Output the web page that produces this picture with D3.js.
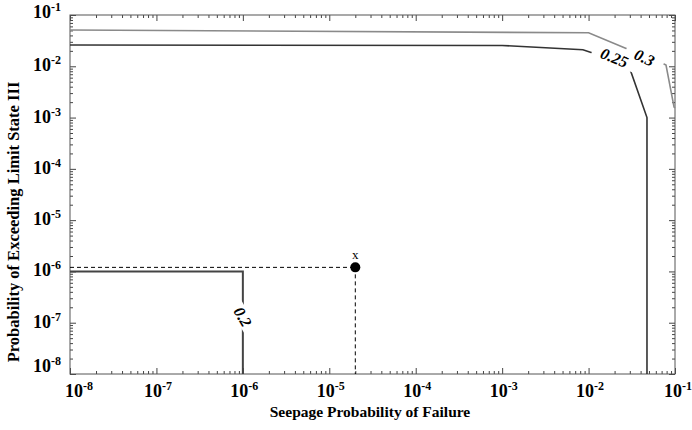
<!DOCTYPE html>
<html><head><meta charset="utf-8">
<script src="https://cdn.jsdelivr.net/npm/d3@7"></script>
<style>body{margin:0;background:#fff}svg{display:block}text{font-family:"Liberation Serif","Times New Roman",serif}</style>
</head><body>
<svg id="c" width="692" height="430"></svg>
<script>
// ---- data ----
const majorTicks = [1e-8,1e-7,1e-6,1e-5,1e-4,1e-3,1e-2,1e-1];
const tickExponents = ["-8","-7","-6","-5","-4","-3","-2","-1"];
const contour02 = [[1e-8,1e-6],[1e-6,1e-6],[1e-6,1e-8]];
const contour025 = [[1e-8,0.026],[1e-3,0.0255],[0.0086,0.021],[0.029,0.0106],[0.0474,0.001],[0.0474,1e-8]];
const contour03 = [[1e-8,0.051],[1e-2,0.045],[0.0264,0.0228],[0.0706,0.0116],[0.0787,0.0106],[0.0975,0.0016],[0.1,0.00155]];
const contourLabels = [
  {text:"0.25", x:0.0199, y:0.0147, angle:22},
  {text:"0.3",  x:0.0443, y:0.0148, angle:25},
  {text:"0.2",  x:1e-6,   y:1.3e-7, angle:60}
];
const pointX = {x:2e-5, y:1.2e-6, label:"x"};
const xTitle = "Seepage Probability of Failure";
const yTitle = "Probability of Exceeding Limit State III";

// ---- layout ----
const L=70,R=675,T=15,B=374;
const svg=d3.select("#c");
const x=d3.scaleLog().domain([1e-8,1e-1]).range([L,R]);
const y=d3.scaleLog().domain([1e-8,1e-1]).range([B,T]);
const minor=x.ticks().filter(v=>!majorTicks.some(m=>Math.abs(m-v)/m<1e-6));

function axisGroup(axisFn, scale, tx, ty){
  const g1=svg.append("g").attr("transform",`translate(${tx},${ty})`)
    .call(axisFn(scale).tickValues(minor).tickSize(-3).tickFormat(""));
  const g2=svg.append("g").attr("transform",`translate(${tx},${ty})`)
    .call(axisFn(scale).tickValues(majorTicks).tickSize(-6).tickFormat(""));
  [g1,g2].forEach(g=>{g.select(".domain").remove();g.selectAll("line").attr("stroke","#444");});
}
axisGroup(d3.axisBottom,x,0,B);
axisGroup(d3.axisTop,x,0,T);
axisGroup(d3.axisLeft,y,L,0);
axisGroup(d3.axisRight,y,R,0);
svg.append("rect").attr("x",L).attr("y",T).attr("width",R-L).attr("height",B-T)
  .attr("fill","none").attr("stroke","#555").attr("stroke-width",1);

// tick labels
majorTicks.forEach((v,i)=>{
  const last=i===majorTicks.length-1;
  const dx = i===0?9:(last?3:1.5);
  const t=svg.append("text").attr("x",x(v)+dx).attr("y",397).attr("text-anchor","middle")
    .attr("font-weight","bold").attr("font-size",18);
  t.append("tspan").text("10");
  t.append("tspan").attr("font-size",12).attr("dy",-7).text(tickExponents[i]);
  const dy = i===0?-2:(last?3:5);
  const u=svg.append("text").attr("x",61).attr("y",y(v)+dy).attr("text-anchor","end")
    .attr("font-weight","bold").attr("font-size",18);
  u.append("tspan").text("10");
  u.append("tspan").attr("font-size",12).attr("dy",-7).text(tickExponents[i]);
});

// titles
svg.append("text").attr("x",370).attr("y",417).attr("text-anchor","middle")
  .attr("font-weight","bold").attr("font-size",15.5).text(xTitle);
svg.append("text").attr("transform",`translate(19,222) rotate(-90)`).attr("text-anchor","middle")
  .attr("font-weight","bold").attr("font-size",16.5).text(yTitle);

// contours
const line=d3.line().x(d=>x(d[0])).y(d=>y(d[1]));
svg.append("path").attr("d",line(contour03)).attr("fill","none").attr("stroke","#8a8a8a").attr("stroke-width",1.6);
svg.append("path").attr("d",line(contour025)).attr("fill","none").attr("stroke","#333").attr("stroke-width",1.6);
svg.append("path").attr("d",line(contour02)).attr("fill","none").attr("stroke","#444").attr("stroke-width",2);

// dashed guides and point
svg.append("line").attr("x1",L).attr("x2",x(pointX.x)).attr("y1",y(pointX.y)).attr("y2",y(pointX.y))
  .attr("stroke","#000").attr("stroke-dasharray","4,3");
svg.append("line").attr("x1",x(pointX.x)).attr("x2",x(pointX.x)).attr("y1",y(pointX.y)).attr("y2",B)
  .attr("stroke","#000").attr("stroke-dasharray","4,3");
svg.append("circle").attr("cx",x(pointX.x)).attr("cy",y(pointX.y)).attr("r",5).attr("fill","#000");
svg.append("text").attr("x",x(pointX.x)).attr("y",y(pointX.y)-8).attr("text-anchor","middle")
  .attr("font-size",13).text(pointX.label);

// contour labels with white gap
const gapW={"0.25":46,"0.3":40,"0.2":34};
contourLabels.forEach(c=>{
  const g=svg.append("g").attr("transform",`translate(${x(c.x)},${y(c.y)}) rotate(${c.angle})`);
  const w=gapW[c.text];
  g.append("rect").attr("x",-w/2).attr("y",-7).attr("width",w).attr("height",14).attr("fill","#fff");
  g.append("text").attr("text-anchor","middle").attr("dy",5.5).attr("font-weight","bold")
    .attr("font-style","italic").attr("font-size",16).text(c.text);
});
</script>
</body></html>
